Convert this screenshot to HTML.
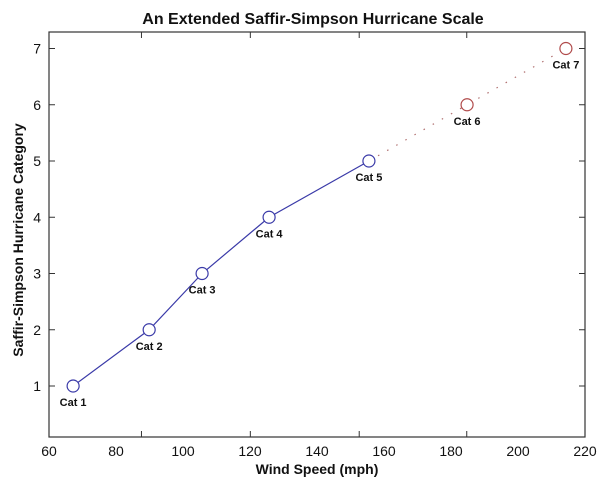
<!DOCTYPE html>
<html><head><meta charset="utf-8"><style>
body{margin:0;background:#fff;}
svg text{font-family:"Liberation Sans",Arial,sans-serif;}
</style></head><body>
<svg id="chart" width="600" height="480"></svg>
<script>
const categories=["Cat 1","Cat 2","Cat 3","Cat 4","Cat 5","Cat 6","Cat 7"];
const windSpeeds=[67.2,89.9,105.7,125.7,155.5,184.8,214.3];
const catValues=[1,2,3,4,5,6,7];
const xTickLabels=[60,80,100,120,140,160,180,200,220];
const xTickMarks=[87.6,120.1,152.6,184.7];
const yTicks=[1,2,3,4,5,6,7];
const L=49,R=585,T=32,B=437;
const xs=v=>L+(v-60)/(220-60)*(R-L);
const ys=v=>386-(v-1)*56.25;
const NS="http://www.w3.org/2000/svg";
const svg=document.getElementById('chart');
function mk(tag,attrs,txt){const e=document.createElementNS(NS,tag);for(const k in attrs)e.setAttribute(k,attrs[k]);if(txt!==undefined)e.textContent=txt;svg.appendChild(e);return e;}
let e;
e=mk('text',{x:313,y:24,'text-anchor':'middle','font-size':16,'font-weight':'bold',fill:'#111'},'An Extended Saffir-Simpson Hurricane Scale');


e=mk('rect',{x:L,y:T,width:R-L,height:B-T,fill:'none',stroke:'#333','stroke-width':1.2});


xTickMarks.forEach(v=>{
 e=mk('line',{x1:xs(v),x2:xs(v),y1:B,y2:B-6,stroke:'#333'});
 
 
 e=mk('line',{x1:xs(v),x2:xs(v),y1:T,y2:T+6,stroke:'#333'});
 
 
});
xTickLabels.forEach(v=>{
 e=mk('text',{x:xs(v),y:456,'text-anchor':'middle','font-size':14,fill:'#111'},String(v));
 
 
});
yTicks.forEach(v=>{
 e=mk('line',{x1:L,x2:L+6,y1:ys(v),y2:ys(v),stroke:'#333'});
 
 
 e=mk('line',{x1:R,x2:R-6,y1:ys(v),y2:ys(v),stroke:'#333'});
 
 
 e=mk('text',{x:L-8,y:ys(v)+5,'text-anchor':'end','font-size':14,fill:'#111'},String(v));
 
 
});
e=mk('text',{x:317,y:474,'text-anchor':'middle','font-size':14,'font-weight':'bold',fill:'#111'},'Wind Speed (mph)');


e=mk('text',{x:0,y:0,'text-anchor':'middle','font-size':14,'font-weight':'bold',fill:'#111',transform:'translate(23,240) rotate(-90)'},'Saffir-Simpson Hurricane Category');


let solid=[],dot=[];
for(let i=0;i<categories.length;i++){const p=xs(windSpeeds[i])+','+ys(catValues[i]);if(i<=4)solid.push(p);if(i>=4)dot.push(p);}
e=mk('polyline',{points:solid.join(' '),fill:'none',stroke:'#3a3aa8','stroke-width':1.2});


e=mk('polyline',{points:dot.join(' '),fill:'none',stroke:'#b07070','stroke-width':1.2,'stroke-dasharray':'1.5 9'});


categories.forEach((c,i)=>{
 const x=xs(windSpeeds[i]),y=ys(catValues[i]);
 e=mk('circle',{cx:x,cy:y,r:6,fill:'#fff',stroke:i<5?'#3a3aa8':'#b04a4a','stroke-width':1.2});
 
 
 e=mk('text',{x:x,y:y+20,'text-anchor':'middle','font-size':11,'font-weight':'bold',fill:'#111'},c);
 
 
});
</script>
</body></html>
